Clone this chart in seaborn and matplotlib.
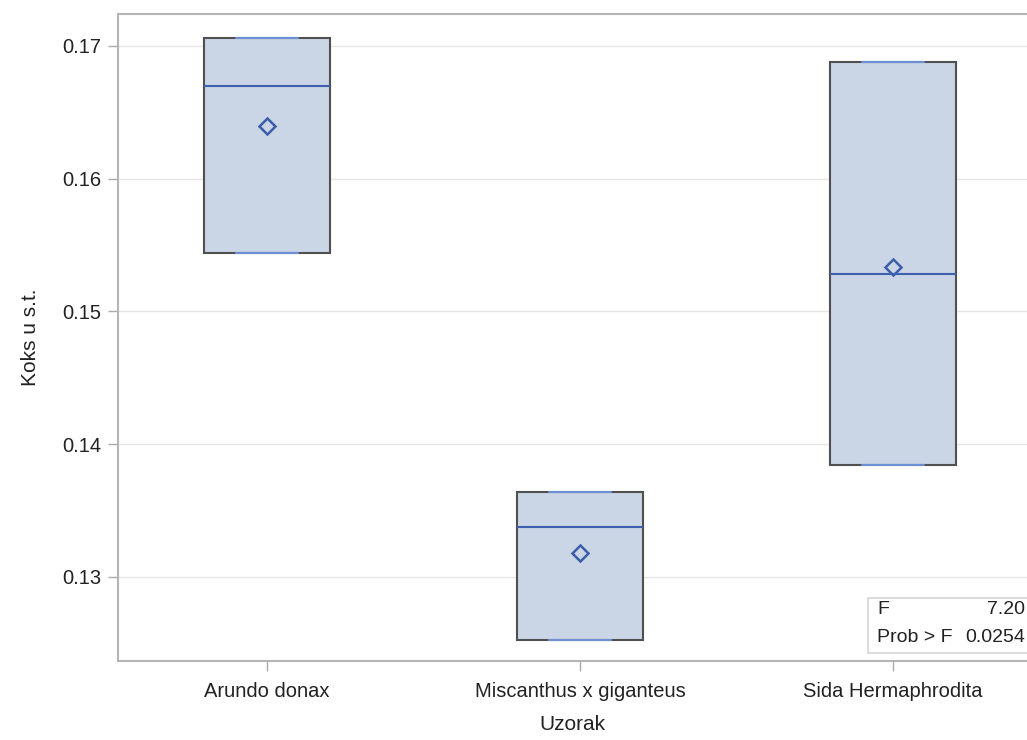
import pandas as pd
import seaborn as sns
import matplotlib.pyplot as plt
from matplotlib.patches import Rectangle

# three measurements per sample (min, middle, max)
categories = ["Arundo donax", "Miscanthus x giganteus", "Sida Hermaphrodita"]
low_vals = [0.1544, 0.12525, 0.13842]
mid_vals = [0.1670, 0.13374, 0.15281]
high_vals = [0.1706, 0.13638, 0.16879]
yticks = [0.13, 0.14, 0.15, 0.16, 0.17]
f_value = "7.20"
prob_f = "0.0254"

raw_rows = []
box_rows = []
for cat, lo, mid, hi in zip(categories, low_vals, mid_vals, high_vals):
    for v in (lo, mid, hi):
        raw_rows.append({"Uzorak": cat, "Koks": v})
    # repeat the extremes so the box spans min..max like the SAS plot
    for v in (lo, lo, mid, hi, hi):
        box_rows.append({"Uzorak": cat, "Koks": v})
raw_df = pd.DataFrame(raw_rows)
box_df = pd.DataFrame(box_rows)

sns.set_style("white")
plt.rcParams['font.family'] = ['Liberation Sans', 'DejaVu Sans']

W, H = 1027, 740
fig = plt.figure(figsize=(W / 100, H / 100), dpi=100)
ax = fig.add_axes([118 / W, 1 - 661 / H, (1027 - 118) / W, (661 - 14) / H])

ax.yaxis.grid(True, color="#e6e6e6", linewidth=1)
ax.set_axisbelow(True)

sns.boxplot(data=box_df, x="Uzorak", y="Koks", order=categories, ax=ax,
            width=0.40, color="#cad5e6", fill=True, linewidth=1.5,
            boxprops=dict(facecolor="#cad5e6", edgecolor="#505050"),
            medianprops=dict(color="#3d5fb0", linewidth=1.5),
            capprops=dict(color="#6d8fd6", linewidth=1.5),
            whiskerprops=dict(color="#505050"),
            showfliers=False)

sns.pointplot(data=raw_df, x="Uzorak", y="Koks", order=categories, ax=ax,
              estimator="mean", errorbar=None, linestyle="none",
              marker="D", markersize=8, markerfacecolor="none",
              markeredgewidth=1.8, color="#3b5ea8")

ax.set_ylim(0.12367, 0.17241)
ax.set_xlim(-0.476, 2.428)
ax.set_yticks(yticks)
ax.set_yticklabels([f"{t:.2f}" for t in yticks])
ax.set_xlabel("Uzorak", fontsize=15, color="#222222", labelpad=10)
ax.set_ylabel("Koks u s.t.", fontsize=15, color="#222222", labelpad=16)
ax.tick_params(axis="both", labelsize=14.5, colors="#222222", length=7,
               width=1, direction="out", color="#aaaaaa", left=True, bottom=True)
ax.tick_params(axis="y", pad=5)
ax.tick_params(axis="x", pad=8)

for side in ["left", "bottom", "top"]:
    ax.spines[side].set_color("#b5b5b5")
    ax.spines[side].set_linewidth(1.5)
ax.spines["right"].set_visible(False)

# F statistic inset, lower right corner
fig.patches.append(Rectangle((868 / W, 1 - 653 / H), 170 / W, 55 / H,
                             transform=fig.transFigure, facecolor="white",
                             edgecolor="#d5d5d5", linewidth=1.2, zorder=5))
fig.text(877 / W, 1 - 609 / H, "F", fontsize=14, color="#222222", va="center", ha="left", zorder=6)
fig.text(1025 / W, 1 - 609 / H, f_value, fontsize=14, color="#222222", va="center", ha="right", zorder=6)
fig.text(877 / W, 1 - 637 / H, "Prob > F", fontsize=14, color="#222222", va="center", ha="left", zorder=6)
fig.text(1025 / W, 1 - 637 / H, prob_f, fontsize=14, color="#222222", va="center", ha="right", zorder=6)

plt.savefig("out.png", dpi=100)
